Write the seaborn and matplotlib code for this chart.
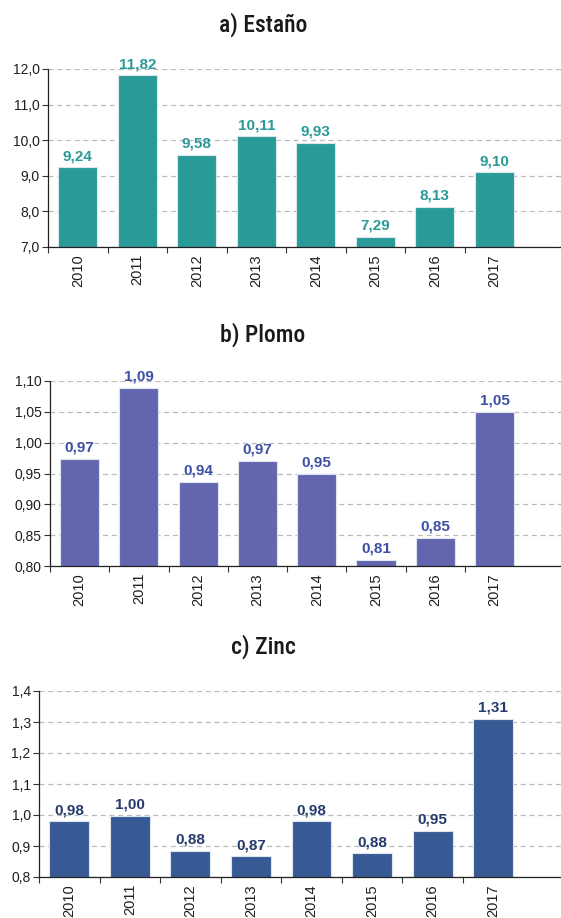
import numpy as np
import pandas as pd
import matplotlib
matplotlib.use("Agg")
import matplotlib.pyplot as plt
import seaborn as sns

years = ["2010", "2011", "2012", "2013", "2014", "2015", "2016", "2017"]
estano = [9.24, 11.82, 9.58, 10.11, 9.93, 7.29, 8.13, 9.10]
plomo = [0.974, 1.089, 0.936, 0.970, 0.950, 0.810, 0.846, 1.050]
zinc = [0.980, 0.997, 0.884, 0.867, 0.980, 0.876, 0.950, 1.310]

titles = ["a) Estaño", "b) Plomo", "c) Zinc"]
bar_colors = ["#2A9A98", "#6366AE", "#385A94"]
label_colors = ["#2A9A98", "#3D4FA6", "#263A6E"]
yticks_list = [
    [7.0, 8.0, 9.0, 10.0, 11.0, 12.0],
    [0.80, 0.85, 0.90, 0.95, 1.00, 1.05, 1.10],
    [0.8, 0.9, 1.0, 1.1, 1.2, 1.3, 1.4],
]
ydec = [1, 2, 1]
series = [estano, plomo, zinc]

sns.set_theme(style="white")
plt.rcParams["font.family"] = ["Liberation Sans", "DejaVu Sans"]

fig = plt.figure(figsize=(5.61, 9.18), dpi=100)
W, H = 561, 918
# axes boxes in pixels: left, top, bottom
boxes = [(48, 69, 247), (50, 381, 566), (39, 691, 877)]
title_y = [25, 335, 647]

for i in range(3):
    l, t, b = boxes[i]
    ax = fig.add_axes([l / W, 1 - b / H, 1 - l / W, (b - t) / H])
    df = pd.DataFrame({"year": years, "value": series[i]})
    sns.barplot(data=df, x="year", y="value", color=bar_colors[i], width=0.66,
                edgecolor="#DDE6EE", linewidth=0.8, saturation=1, ax=ax)
    yt = yticks_list[i]
    ax.set_ylim(yt[0], yt[-1])
    ax.set_yticks(yt)
    ax.set_yticklabels([f"{v:.{ydec[i]}f}".replace(".", ",") for v in yt], fontsize=10, color="#1E1E1E")
    ax.set_xlim(-0.5, 8.12)
    ax.set_xticks(range(len(years)))
    ax.set_xticklabels(years, rotation=90, fontsize=10.5, color="#1E1E1E")
    ax.set_xticks(np.arange(-0.5, 7.0, 1.0), minor=True)
    ax.tick_params(axis="x", which="major", length=0, pad=5)
    ax.tick_params(axis="x", which="minor", length=4, width=0.8, color="#333333", direction="out", bottom=True)
    ax.tick_params(axis="y", length=4, width=0.8, color="#333333", direction="out", left=True, pad=2)
    ax.set_xlabel("")
    ax.set_ylabel("")
    ax.yaxis.grid(True, linestyle=(0, (4, 3)), color="#BBBBBB", linewidth=0.9)
    ax.set_axisbelow(True)
    for s in ["top", "right"]:
        ax.spines[s].set_visible(False)
    for s in ["left", "bottom"]:
        ax.spines[s].set_color("#222222")
        ax.spines[s].set_linewidth(0.9)
    labels = [f"{v:.2f}".replace(".", ",") for v in series[i]]
    ax.bar_label(ax.containers[0], labels=labels, padding=3, fontsize=11,
                 fontweight="bold", color=label_colors[i], clip_on=False)
    fig.text(263 / W, 1 - title_y[i] / H, titles[i], ha="center", va="center",
             fontsize=17, fontweight="medium", color="#1A1A1A",
             family=["Roboto Condensed", "Liberation Sans", "DejaVu Sans"])

fig.savefig("out.png", dpi=100)
